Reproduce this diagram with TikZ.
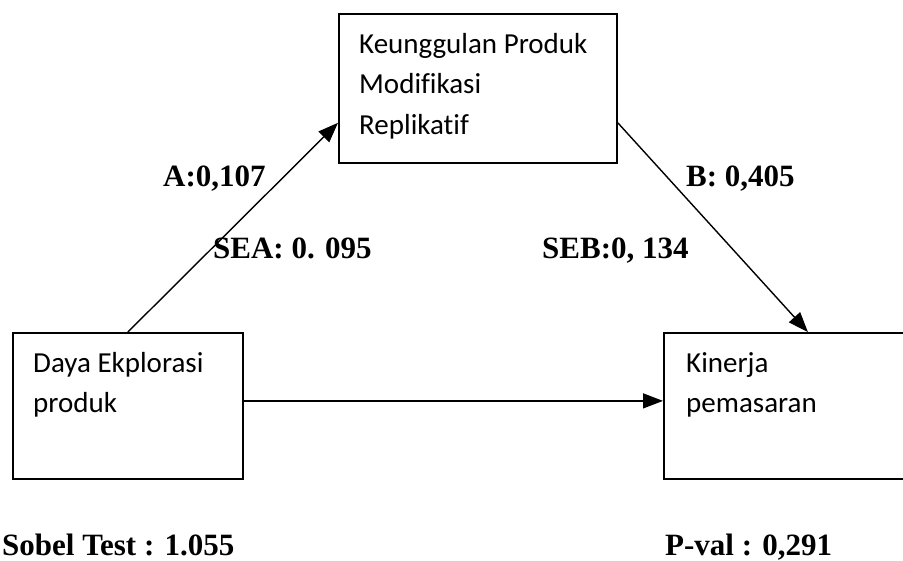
\documentclass[tikz,border=0pt]{standalone}
\usepackage{fontspec}
\setmainfont{Liberation Serif}
\newfontfamily\boxfont{Carlito}[Ligatures=NoCommon]
\usetikzlibrary{arrows.meta}
\tikzset{
	varbox/.style={draw, line width=1.8pt, anchor=north west, inner sep=0pt},
	boxtext/.style={anchor=north west, inner sep=0pt, align=left, font=\boxfont\fontsize{29}{40.5}\selectfont},
	coef/.style={anchor=base west, inner sep=0pt, font=\bfseries\fontsize{31}{36}\selectfont},
	path/.style={line width=1.4pt, -{Triangle[length=20pt,width=15pt]}}
}

\begin{document}
\begin{tikzpicture}[x=1pt, y=-1pt]
			%%%%% START %%%%%
			\useasboundingbox (0, 0) rectangle (903, 561);
			\clip (0, 0) rectangle (903, 561);
			
			\node[varbox, minimum width=278pt, minimum height=149pt] (ku) at (338, 13) {};
			\node[varbox, minimum width=230pt, minimum height=146pt] (dp) at (12, 332) {};
			\node[varbox, minimum width=288pt, minimum height=146pt] (kp) at (663, 332) {};
			
			\node[boxtext] (kutext) at (359, 33) {Keunggulan Produk\\Modifikasi\\Replikatif};
			\node[boxtext] (dptext) at (33, 352) {Daya Ekplorasi\\produk};
			\node[boxtext] (kptext) at (686, 352) {Kinerja\\pemasaran};
			
			\draw[path] (dp.north) -- ([yshift=41pt]ku.south west);
			\draw[path] ([yshift=41pt]ku.south east) -- (kp.north);
			\draw[path] ([yshift=5pt]dp.east) -- ([yshift=5pt]kp.west);
			
			\node[coef] (a) at (163, 187) {A:0,107};
			\node[coef] (sea) at (213, 259) {SEA: 0. 095};
			\node[coef] (b) at (686, 187) {B: 0,405};
			\node[coef] (seb) at (542, 259) {SEB:0, 134};
			
			\node[coef] (sobel) at (2, 555) {Sobel Test : 1.055};
			\node[coef] (pval) at (665, 555) {P-val : 0,291};
			%%%%% END %%%%%
\end{tikzpicture}
\end{document}
